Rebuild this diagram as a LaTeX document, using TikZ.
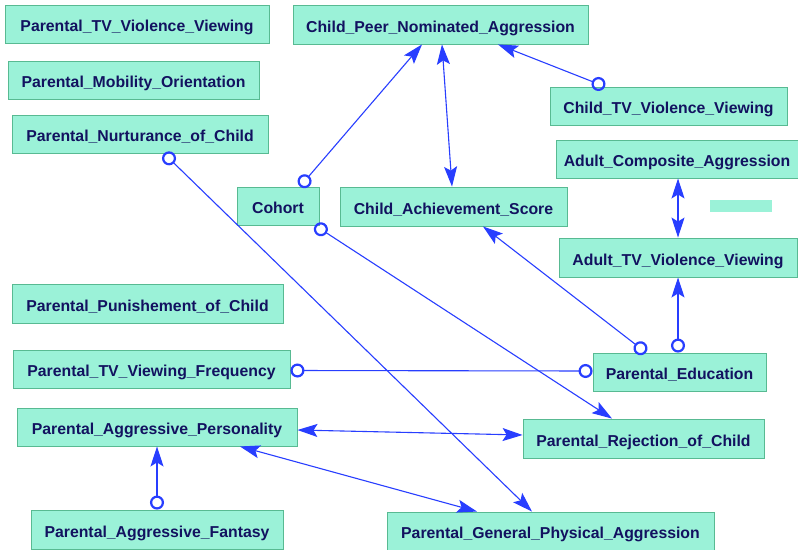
\documentclass[tikz,border=0pt]{standalone}
\usepackage{fontspec}
\setmainfont{Liberation Sans}
\usetikzlibrary{arrows.meta}
\definecolor{boxfill}{RGB}{155,242,216}
\definecolor{boxline}{RGB}{88,186,146}
\definecolor{boxtext}{RGB}{18,18,96}
\definecolor{linkblue}{RGB}{40,62,255}
\begin{document}
\begin{tikzpicture}[x=1pt,y=-1pt,
  var/.style={draw=boxline, line width=0.9pt, fill=boxfill, inner sep=0pt,
    minimum height=38pt, text=boxtext, text height=15pt, text depth=0pt,
    font=\fontsize{15.8}{18}\selectfont\bfseries},
  link/.style={draw=linkblue, line width=1.1pt},
  tip/.tip={Stealth[length=20pt,width=13pt,inset=4pt,fill=linkblue]},
  ring/.tip={Circle[open,length=14pt,width=14pt,line width=2.2pt]},
  tri/.style={-tip},
  bitri/.style={tip-tip},
  octri/.style={ring-tip},
  ococ/.style={ring-ring}]
\useasboundingbox (0,0) rectangle (798,549);
\fill[white] (0,0) rectangle (798,549);

% variables
\node[var, minimum width=264pt] (ptvv)   at (137,24)    {Parental\_TV\_Violence\_Viewing};
\node[var, minimum width=251pt] (pmo)    at (133.5,80)  {Parental\_Mobility\_Orientation};
\node[var, minimum width=256pt] (pnc)    at (140,134)   {Parental\_Nurturance\_of\_Child};
\node[var, minimum width=295pt, minimum height=39pt] (cpna) at (440.5,24.5) {Child\_Peer\_Nominated\_Aggression};
\node[var, minimum width=237pt] (ctvv)   at (668.5,106) {Child\_TV\_Violence\_Viewing};
\node[var, minimum width=242pt] (aca)    at (677,159)   {Adult\_Composite\_Aggression};
\node[var, minimum width=82pt]  (cohort) at (278,206)   {Cohort};
\node[var, minimum width=227pt, minimum height=39pt] (cas)  at (453.5,206.5) {Child\_Achievement\_Score};
\node[var, minimum width=238pt, minimum height=39pt] (atvv) at (678,257.5)   {Adult\_TV\_Violence\_Viewing};
\node[var, minimum width=271pt, minimum height=39pt] (ppc)  at (147.5,303.5) {Parental\_Punishement\_of\_Child};
\node[var, minimum width=277pt] (ptvf)   at (151.5,369) {Parental\_TV\_Viewing\_Frequency};
\node[var, minimum width=173pt] (pe)     at (679.5,372) {Parental\_Education};
\node[var, minimum width=280pt] (pap)    at (157,427)   {Parental\_Aggressive\_Personality};
\node[var, minimum width=241pt, minimum height=39pt] (prc)  at (643.5,438.5) {Parental\_Rejection\_of\_Child};
\node[var, minimum width=252pt, minimum height=39pt] (paf)  at (157,529.5)   {Parental\_Aggressive\_Fantasy};
\node[var, minimum width=327pt] (pgpa)   at (550.5,531) {Parental\_General\_Physical\_Aggression};

% empty swatch
\fill[boxfill] (710,200) rectangle (772,212);

% links
\draw[link, octri] ([xshift=22pt]cohort.north) -- ([xshift=-18.5pt]cpna.south);
\draw[link, bitri] ([xshift=1.5pt]cpna.south) -- ([xshift=-1.5pt]cas.north);
\draw[link, octri] ([xshift=-63.5pt]ctvv.north) -- ([xshift=57.5pt]cpna.south);
\draw[link, bitri] ([xshift=1pt]aca.south) -- (atvv.north);
\draw[link, octri] ([xshift=-1.5pt]pe.north) -- (atvv.south);
\draw[link, octri] ([xshift=-33.5pt]pe.north) -- ([xshift=29.5pt]cas.south);
\draw[link, octri] ([xshift=24pt]pnc.south) -- ([xshift=-18.5pt]pgpa.north);
\draw[link, octri] ([xshift=37pt]cohort.south) -- ([xshift=-31.5pt]prc.north);
\draw[link, ococ] ([yshift=-1.5pt]ptvf.east) -- ([yshift=1pt]pe.west);
\draw[link, bitri] ([yshift=-3pt]pap.east) -- ([yshift=3.5pt]prc.west);
\draw[link, bitri] ([xshift=83pt]pap.south) -- ([xshift=-73.5pt]pgpa.north);
\draw[link, octri] (paf.north) -- (pap.south);
\end{tikzpicture}
\end{document}
